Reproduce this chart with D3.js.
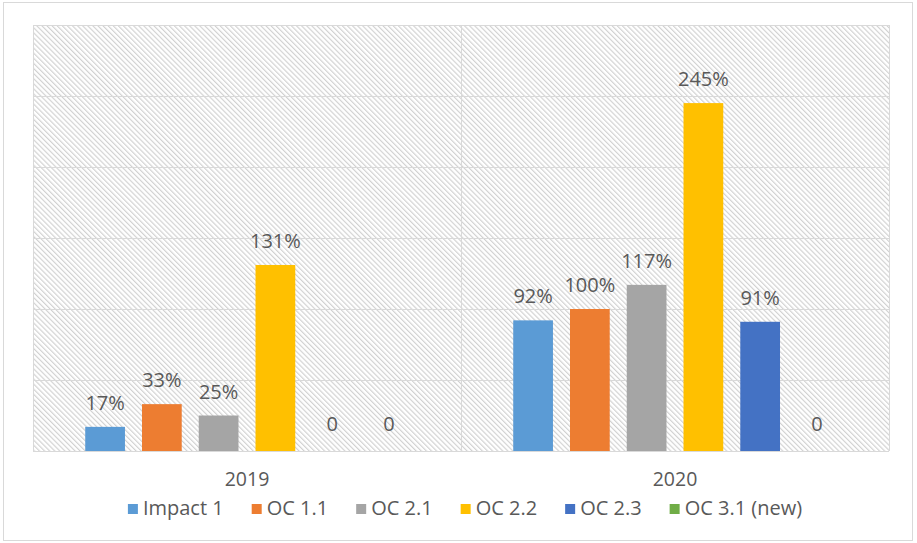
<!DOCTYPE html>
<html>
<head>
<meta charset="utf-8">
<script src="https://cdn.jsdelivr.net/npm/d3@7"></script>
<style>
  html, body { margin: 0; padding: 0; background: #fff; }
  svg { display: block; }
  text { font-family: "Open Sans", "Liberation Sans", sans-serif; fill: #595959; }
</style>
</head>
<body>
<svg id="chart" width="917" height="543"></svg>
<script>
// ---- data ----
const years = ["2019", "2020"];
const seriesNames = ["Impact 1", "OC 1.1", "OC 2.1", "OC 2.2", "OC 2.3", "OC 3.1 (new)"];
const seriesColors = ["#5B9BD5", "#ED7D31", "#A5A5A5", "#FFC000", "#4472C4", "#70AD47"];
const values2019 = [17, 33, 25, 131, 0, 0];
const values2020 = [92, 100, 117, 245, 91, 0];
const gridTicks = [0, 50, 100, 150, 200, 250, 300];

const valuesByYear = { "2019": values2019, "2020": values2020 };

const svg = d3.select("#chart");
const plot = { left: 33, right: 889, top: 25, bottom: 451 };

// outer frame
svg.append("rect")
  .attr("x", 3.5).attr("y", 2.5).attr("width", 909).attr("height", 538)
  .attr("fill", "#fff").attr("stroke", "#d9d9d9").attr("stroke-width", 1);

// hatch pattern
const defs = svg.append("defs");
const pat = defs.append("pattern")
  .attr("id", "hatch")
  .attr("patternUnits", "userSpaceOnUse")
  .attr("width", 3.6).attr("height", 3.6)
  .attr("patternTransform", "rotate(-45)");
pat.append("rect").attr("width", 3.6).attr("height", 3.6).attr("fill", "#ffffff");
pat.append("line")
  .attr("x1", 0.6).attr("y1", 0).attr("x2", 0.6).attr("y2", 3.6)
  .attr("stroke", "#cfcfcf").attr("stroke-width", 1.1);

// scales
const y = d3.scaleLinear().domain([0, 300]).range([plot.bottom, plot.top]);
const x0 = d3.scaleBand().domain(years).range([plot.left, plot.right]).padding(0);
const x1 = d3.scaleBand().domain(seriesNames).range([0, x0.bandwidth()])
  .paddingInner(0.3).paddingOuter(0.92);
const color = d3.scaleOrdinal().domain(seriesNames).range(seriesColors);

// plot background
svg.append("rect")
  .attr("x", plot.left).attr("y", plot.top)
  .attr("width", plot.right - plot.left).attr("height", plot.bottom - plot.top)
  .attr("fill", "url(#hatch)");

// gridlines
svg.append("g").selectAll("line").data(gridTicks).join("line")
  .attr("x1", plot.left).attr("x2", plot.right)
  .attr("y1", d => Math.round(y(d)) + 0.5).attr("y2", d => Math.round(y(d)) + 0.5)
  .attr("stroke", "#d9d9d9").attr("stroke-width", 1);

// vertical group borders
const vlines = [plot.left, ...years.map(yr => x0(yr) + x0.bandwidth())];
svg.append("g").selectAll("line").data(vlines).join("line")
  .attr("x1", d => Math.round(d) + 0.5).attr("x2", d => Math.round(d) + 0.5)
  .attr("y1", plot.top).attr("y2", plot.bottom)
  .attr("stroke", "#d9d9d9").attr("stroke-width", 1);

// bars
const groups = svg.append("g").selectAll("g").data(years).join("g")
  .attr("transform", d => `translate(${x0(d)},0)`);

groups.selectAll("rect")
  .data(yr => seriesNames.map((s, i) => ({ s, v: valuesByYear[yr][i] })))
  .join("rect")
  .attr("x", d => x1(d.s))
  .attr("width", x1.bandwidth())
  .attr("y", d => y(d.v))
  .attr("height", d => y(0) - y(d.v))
  .attr("fill", d => color(d.s));

// data labels
groups.selectAll("text.lbl")
  .data(yr => seriesNames.map((s, i) => ({ s, v: valuesByYear[yr][i] })))
  .join("text")
  .attr("class", "lbl")
  .attr("x", d => x1(d.s) + x1.bandwidth() / 2)
  .attr("y", d => y(d.v) - (d.v === 0 ? 20 : 17))
  .attr("text-anchor", "middle")
  .attr("font-size", 20)
  .text(d => d.v === 0 ? "0" : d.v + "%");

// category axis labels
const xAxis = d3.axisBottom(x0).tickSize(0).tickPadding(0);
const ax = svg.append("g").attr("transform", `translate(0,${plot.bottom})`).call(xAxis);
ax.select(".domain").remove();
ax.selectAll("text")
  .attr("font-size", 19.5)
  .attr("dy", null)
  .attr("y", 35)
  .style("font-family", '"Open Sans", "Liberation Sans", sans-serif')
  .attr("fill", "#595959");

// legend
const legend = svg.append("g");
const items = legend.selectAll("g").data(seriesNames).join("g");
items.append("rect").attr("width", 10).attr("height", 10).attr("y", -11)
  .attr("fill", d => color(d));
items.append("text").attr("x", 15).attr("y", 0).attr("font-size", 20)
  .text(d => d);
let cx = 0;
const gap = 28;
items.each(function () {
  const g = d3.select(this);
  const w = 15 + g.select("text").node().getComputedTextLength();
  g.attr("transform", `translate(${cx},0)`);
  cx += w + gap;
});
const total = cx - gap;
legend.attr("transform", `translate(${465 - total / 2},515)`);
</script>
</body>
</html>
